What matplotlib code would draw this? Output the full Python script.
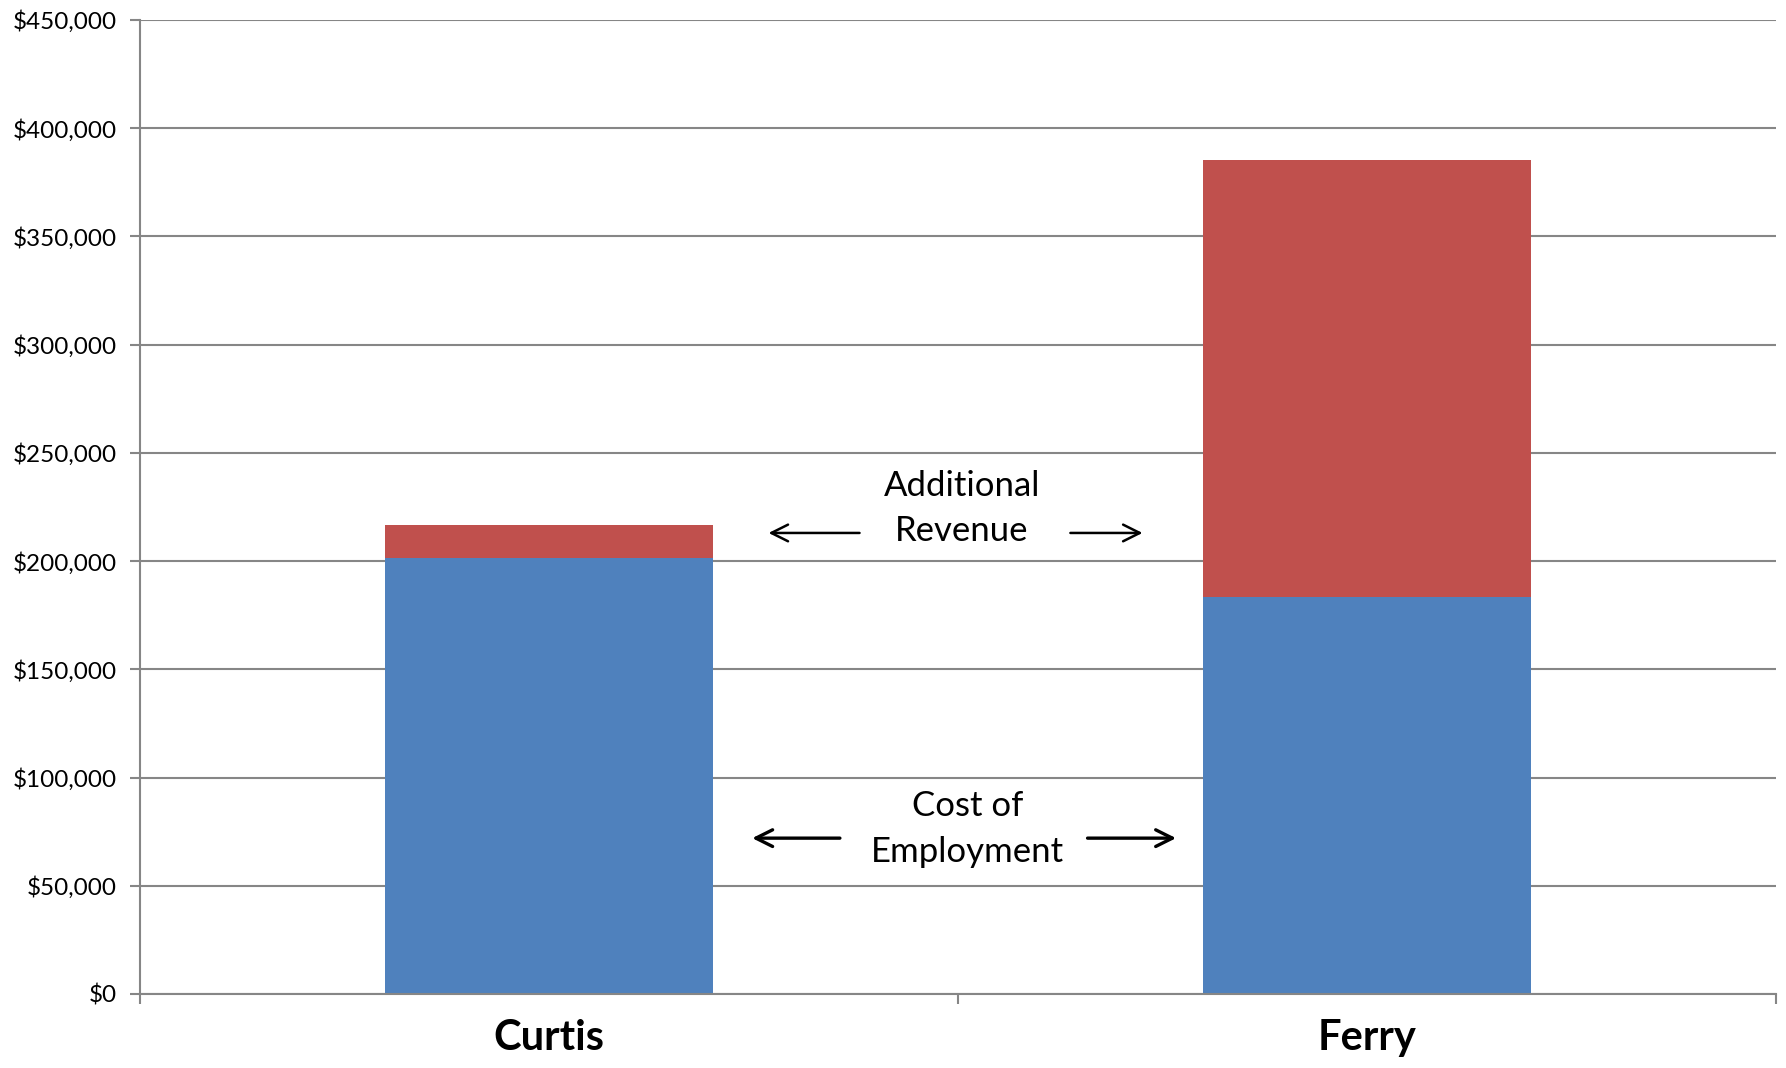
import matplotlib
matplotlib.use("Agg")
import matplotlib.pyplot as plt
from matplotlib.ticker import FuncFormatter, FixedLocator
import numpy as np

plt.rcParams['font.family'] = ['Lato', 'DejaVu Sans']

# data
people = ['Curtis', 'Ferry']
cost_of_employment = [201500, 183500]
additional_revenue = [15000, 202000]
y_ticks = list(range(0, 450001, 50000))

blue = '#4F81BD'
red = '#C0504D'
grey = '#868686'

fig = plt.figure(figsize=(17.86, 10.68), dpi=100)
ax = fig.add_axes([0.0784, 0.0693, 0.9944 - 0.0784, 0.9813 - 0.0693])

x = np.arange(len(people))
ax.bar(x, cost_of_employment, width=0.4, color=blue, zorder=2)
ax.bar(x, additional_revenue, width=0.4, bottom=cost_of_employment,
       color=red, zorder=2)

ax.set_xlim(-0.5, len(people) - 0.5)
ax.set_ylim(0, 450000)

# y axis: gridlines + dollar labels
ax.set_yticks(y_ticks)
ax.yaxis.set_major_formatter(FuncFormatter(lambda v, p: '${:,.0f}'.format(v)))
ax.grid(axis='y', color=grey, linewidth=1.5, zorder=0)
ax.tick_params(axis='y', length=7, width=1.5, color=grey, pad=10,
               labelsize=17.5, labelcolor='black')

# x axis: category labels, tick marks on the boundaries
ax.set_xticks(x)
ax.set_xticklabels(people, fontsize=30, fontweight='bold')
ax.tick_params(axis='x', which='major', length=0, pad=18)
ax.xaxis.set_minor_locator(FixedLocator([-0.5, 0.5, 1.5]))
ax.tick_params(axis='x', which='minor', length=7, width=1.5, color=grey)

for side in ['top', 'right']:
    ax.spines[side].set_visible(False)
for side in ['left', 'bottom']:
    ax.spines[side].set_color(grey)
    ax.spines[side].set_linewidth(1.5)
    ax.spines[side].set_zorder(3)

# annotations between the bars
ax.text(0.505, 234700, 'Additional', ha='center', va='center', fontsize=25)
ax.text(0.505, 213900, 'Revenue', ha='center', va='center', fontsize=25)
ax.annotate('', xy=(0.265, 213000), xytext=(0.383, 213000),
            arrowprops=dict(arrowstyle='->', lw=1.8, color='black',
                            mutation_scale=30))
ax.annotate('', xy=(0.729, 213000), xytext=(0.634, 213000),
            arrowprops=dict(arrowstyle='->', lw=1.8, color='black',
                            mutation_scale=30))

ax.text(0.512, 86900, 'Cost of', ha='center', va='center', fontsize=25)
ax.text(0.512, 65600, 'Employment', ha='center', va='center', fontsize=25)
ax.annotate('', xy=(0.245, 72000), xytext=(0.359, 72000),
            arrowprops=dict(arrowstyle='->', lw=2.4, color='black',
                            mutation_scale=30))
ax.annotate('', xy=(0.770, 72000), xytext=(0.655, 72000),
            arrowprops=dict(arrowstyle='->', lw=2.4, color='black',
                            mutation_scale=30))

plt.savefig('out.png', dpi=100)
